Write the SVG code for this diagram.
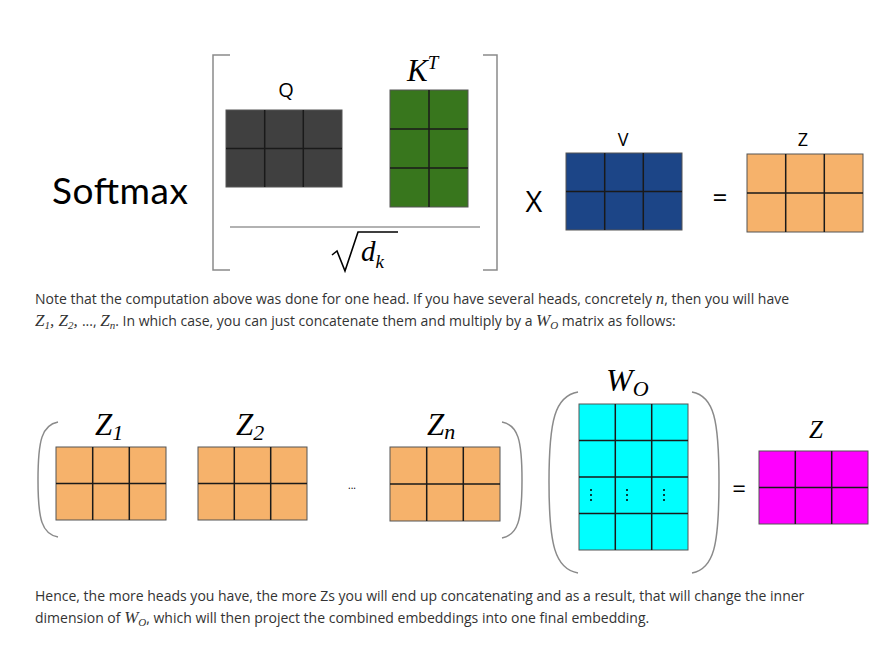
<svg xmlns="http://www.w3.org/2000/svg" width="886" height="653" viewBox="0 0 886 653">
<style>
.cell{stroke:#1a1a1a;stroke-width:1.5;fill:none}
.frame{stroke:#555;stroke-width:1}
.br{fill:none;stroke:#8a8a8a;stroke-width:1.5}
.sans{font-family:"Open Sans","Liberation Sans",sans-serif;fill:#000}
.math{font-family:"Liberation Serif","DejaVu Serif",serif;font-style:italic;fill:#000}
.para{font-family:"Open Sans","Liberation Sans",sans-serif;font-size:14px;fill:#333}
.m{font-family:"Liberation Serif","DejaVu Serif",serif;font-style:italic;font-size:17px}
.sub{font-family:"Liberation Serif","DejaVu Serif",serif;font-style:italic;font-size:11px}
</style>
<rect width="886" height="653" fill="#fff"/>

<text x="52" y="204" style="font-family:Lato,'Open Sans',sans-serif" font-size="37" fill="#000" textLength="136">Softmax</text>

<g id="bracket-softmax">
<path class="br" d="M230,55 H213 V270 H230"/>
<path class="br" d="M483,55 H497 V270 H483"/>
<line x1="230" y1="227" x2="480" y2="227" stroke="#999" stroke-width="1.5"/>
</g>

<g id="Q">
<text class="sans" x="286" y="97" font-size="20" text-anchor="middle">Q</text>
<rect x="226" y="110" width="116" height="77" fill="#404040" class="frame"/>
<path class="cell" d="M264.7,110V187M303.3,110V187M226,148.5H342"/>
</g>

<g id="KT">
<text class="math" x="407" y="81" font-size="31">K<tspan font-size="19" dy="-12">T</tspan></text>
<rect x="390" y="90" width="78" height="117" fill="#38761d" class="frame"/>
<path class="cell" d="M429,90V207M390,129H468M390,168H468"/>
</g>

<g id="sqrt-dk">
<path d="M332,255 L337,251 L345,271 L358,232 H398" fill="none" stroke="#000" stroke-width="1.6"/>
<text class="math" x="361" y="261" font-size="29">d<tspan font-size="19" dy="7">k</tspan></text>
</g>

<text class="sans" x="534" y="212" font-size="29" text-anchor="middle">X</text>

<g id="V">
<text class="sans" x="623" y="146" font-size="18" text-anchor="middle">V</text>
<rect x="566" y="153" width="116" height="77" fill="#1c4587" class="frame"/>
<path class="cell" d="M604.7,153V230M643.3,153V230M566,191.5H682"/>
</g>

<text class="sans" x="720" y="207" font-size="26" text-anchor="middle">=</text>

<g id="Z-top">
<text class="sans" x="803" y="146" font-size="18" text-anchor="middle">Z</text>
<rect x="747" y="154" width="116" height="78" fill="#f6b26b" class="frame"/>
<path class="cell" d="M785.7,154V232M824.3,154V232M747,193H863"/>
</g>

<text class="para" x="35" y="304">Note that the computation above was done for one head. If you have several heads, concretely <tspan class="m">n</tspan>, then you will have</text>
<text class="para" x="35" y="326"><tspan class="m">Z</tspan><tspan class="sub" dy="3">1</tspan><tspan class="m" dy="-3">, Z</tspan><tspan class="sub" dy="3">2</tspan><tspan class="m" dy="-3">, </tspan>..., <tspan class="m">Z</tspan><tspan class="sub" dy="3">n</tspan><tspan dy="-3">. In which case, you can just concatenate them and multiply by a </tspan><tspan class="m">W</tspan><tspan class="sub" dy="3">O</tspan><tspan dy="-3"> matrix as follows:</tspan></text>

<g id="paren-Z">
<path class="br" d="M58,422 C42,425 38,440 38,480 C38,520 42,534 58,537"/>
<path class="br" d="M502,422 C518,425 522,440 522,480 C522,520 518,535 502,538"/>
</g>

<g id="Z1">
<text class="math" x="95" y="435" font-size="31">Z<tspan font-size="22" dy="5">1</tspan></text>
<rect x="56" y="447" width="110" height="73" fill="#f6b26b" class="frame"/>
<path class="cell" d="M92.7,447V520M129.3,447V520M56,483.5H166"/>
</g>

<g id="Z2">
<text class="math" x="236" y="435" font-size="31">Z<tspan font-size="22" dy="5">2</tspan></text>
<rect x="198" y="447" width="109" height="73" fill="#f6b26b" class="frame"/>
<path class="cell" d="M234.3,447V520M270.7,447V520M198,483.5H307"/>
</g>

<text class="sans" x="352" y="489" font-size="10" text-anchor="middle">...</text>

<g id="Zn">
<text class="math" x="427" y="435" font-size="31">Z<tspan font-size="22" dy="4">n</tspan></text>
<rect x="390" y="447" width="110" height="74" fill="#f6b26b" class="frame"/>
<path class="cell" d="M426.7,447V521M463.3,447V521M390,484H500"/>
</g>

<g id="paren-W">
<path class="br" d="M578,392 C555,396 549,420 549,482 C549,545 555,569 578,573"/>
<path class="br" d="M692,392 C714,396 719,420 719,482 C719,545 714,569 692,573"/>
</g>

<g id="WO">
<text class="math" x="606" y="391" font-size="32">W<tspan font-size="22" dy="5">O</tspan></text>
<rect x="579" y="404" width="109" height="146" fill="#00ffff" class="frame"/>
<path class="cell" d="M615.3,404V550M651.7,404V550M579,440.5H688M579,477H688M579,513.5H688"/>
<g fill="#000">
<circle cx="591" cy="490" r="1"/><circle cx="591" cy="495" r="1"/><circle cx="591" cy="500" r="1"/>
<circle cx="627" cy="490" r="1"/><circle cx="627" cy="495" r="1"/><circle cx="627" cy="500" r="1"/>
<circle cx="664" cy="490" r="1"/><circle cx="664" cy="495" r="1"/><circle cx="664" cy="500" r="1"/>
</g>
</g>

<text class="sans" x="739" y="497" font-size="24" text-anchor="middle">=</text>

<g id="Z-out">
<text class="math" x="816" y="438" font-size="25" text-anchor="middle">Z</text>
<rect x="759" y="451" width="109" height="73" fill="#ff00ff" class="frame"/>
<path class="cell" d="M795.3,451V524M831.7,451V524M759,487.5H868"/>
</g>

<text class="para" x="35" y="601">Hence, the more heads you have, the more Zs you will end up concatenating and as a result, that will change the inner</text>
<text class="para" x="35" y="623">dimension of <tspan class="m">W</tspan><tspan class="sub" dy="3">O</tspan><tspan dy="-3">, which will then project the combined embeddings into one final embedding.</tspan></text>
</svg>
